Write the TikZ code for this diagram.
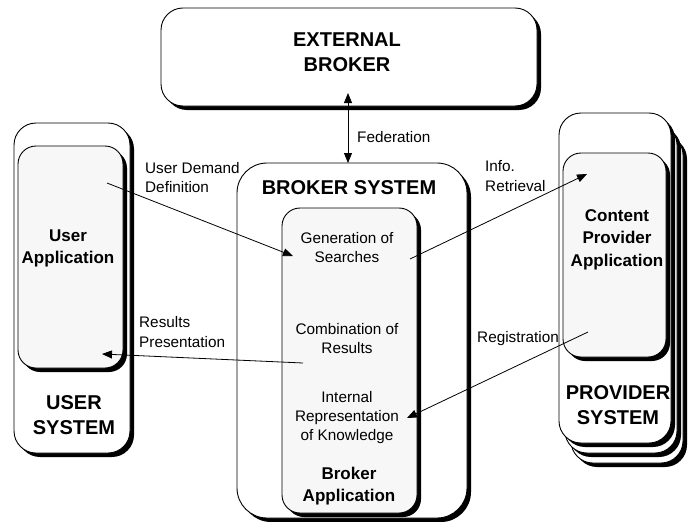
\documentclass[tikz,border=0pt]{standalone}
\usepackage{fontspec}
\setmainfont{Liberation Sans}
\usetikzlibrary{arrows.meta,shadows}
\begin{document}
\begin{tikzpicture}[x=1pt,y=-1pt,
  shbox/.style={draw=black,line width=0.9pt,rectangle,inner sep=0pt,
    drop shadow={shadow xshift=4pt,shadow yshift=-4pt,fill=black,opacity=1}},
  outerbox/.style={shbox,fill=white,rounded corners=22pt},
  innerbox/.style={shbox,fill=gray!6,rounded corners=18pt},
  bigtxt/.style={font=\fontsize{20}{25}\selectfont\bfseries,align=center,inner sep=0pt},
  midtxt/.style={font=\fontsize{17}{22.5}\selectfont\bfseries,align=center,inner sep=0pt},
  smalltxt/.style={font=\fontsize{15.3}{19}\selectfont,align=center,inner sep=0pt},
  lbl/.style={font=\fontsize{15.3}{19.5}\selectfont,align=left,inner sep=0pt,anchor=west},
  conn/.style={line width=0.8pt,-{Triangle[length=10pt,width=8pt]}},
  conn2/.style={line width=0.8pt,{Triangle[length=10pt,width=8pt]}-{Triangle[length=10pt,width=8pt]}}
]
\useasboundingbox (0,0) rectangle (688,522);

% External broker
\node[outerbox,minimum width=376pt,minimum height=98pt] (ext) at (349,57) {};
\node[bigtxt] (extt) at (347,52) {EXTERNAL\\BROKER};

% User system
\node[outerbox,minimum width=116pt,minimum height=330pt] (usys) at (72,288) {};
\node[innerbox,minimum width=105pt,minimum height=222pt] (uapp) at (70.5,257) {};
\node[midtxt] (uappt) at (68,248.5) {User\\Application};
\node[bigtxt] (usyst) at (74,415) {USER\\SYSTEM};

% Broker system
\node[outerbox,rounded corners=30pt,minimum width=230pt,minimum height=355pt] (bsys) at (352,340.5) {};
\node[innerbox,minimum width=135pt,minimum height=305pt] (bapp) at (349.5,360.5) {};
\node[bigtxt] (bsyst) at (349,188) {BROKER SYSTEM};
\node[smalltxt] (gen) at (347,248) {Generation of\\Searches};
\node[smalltxt] (comb) at (347,339) {Combination of\\Results};
\node[smalltxt] (irep) at (347,418) {Internal\\Representation\\of Knowledge};
\node[midtxt] (bappt) at (349,486) {Broker\\Application};

% Provider system (stack)
\node[outerbox,minimum width=112pt,minimum height=330pt] (prov3) at (627,298) {};
\node[outerbox,minimum width=112pt,minimum height=330pt] (prov2) at (621,288) {};
\node[outerbox,minimum width=112pt,minimum height=330pt] (prov) at (615,278) {};
\node[innerbox,minimum width=103pt,minimum height=204pt] (capp) at (614.5,255) {};
\node[midtxt] (cappt) at (617,239.5) {Content\\Provider\\Application};
\node[bigtxt] (provt) at (618,405) {PROVIDER\\SYSTEM};

% Labels
\node[lbl] (fedl) at (357,137) {Federation};
\node[lbl] (udl) at (145,177.5) {User Demand\\Definition};
\node[lbl] (rpl) at (139,332) {Results\\Presentation};
\node[lbl] (irl) at (485,176) {Info.\\Retrieval};
\node[lbl] (regl) at (477,339) {Registration};

% Connector end points
\coordinate (fedA) at (348,93);
\coordinate (fedB) at (348,163);
\coordinate (udA) at (107,183);
\coordinate (udB) at (293,256);
\coordinate (rpA) at (303,363);
\coordinate (rpB) at (102,354);
\coordinate (irA) at (410,259);
\coordinate (irB) at (587,174);
\coordinate (rgA) at (588,332);
\coordinate (rgB) at (407,418);

\draw[conn2] (fedA) -- (fedB);
\draw[conn] (udA) -- (udB);
\draw[conn] (rpA) -- (rpB);
\draw[conn] (irA) -- (irB);
\draw[conn] (rgA) -- (rgB);
\end{tikzpicture}
\end{document}
